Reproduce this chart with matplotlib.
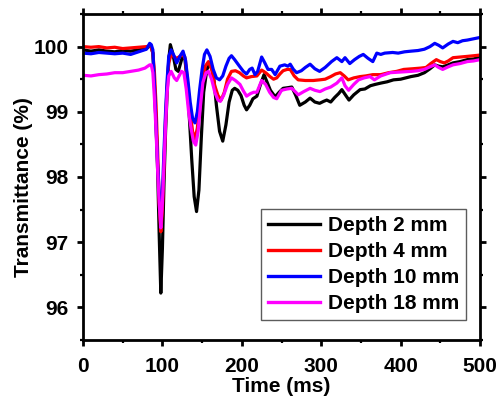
import matplotlib
matplotlib.use("Agg")
import matplotlib.pyplot as plt
from matplotlib.ticker import MultipleLocator

plt.rcParams['font.family'] = ['Liberation Sans', 'DejaVu Sans']
plt.rcParams['font.weight'] = 'bold'

# ---- data ----
t_d2 = [0, 10, 20, 30, 40, 50, 60, 70, 80, 85, 88, 90, 92, 94, 96, 98, 100, 102, 104, 106, 108, 110,
        113, 117, 120, 123, 126, 128, 131, 134, 137, 140, 143, 146, 149, 152, 156, 160, 164, 168, 172,
        176, 180, 184, 188, 191, 195, 199, 203, 206, 210, 214, 219, 223, 228, 232, 236, 242, 247, 252,
        258, 263, 268, 273, 280, 286, 292, 298, 303, 307, 312, 317, 322, 326, 331, 335, 341, 349, 355,
        362, 368, 375, 383, 391, 400, 413, 422, 430, 437, 443, 448, 453, 460, 466, 475, 484, 492, 500]
T_d2 = [99.95, 99.93, 99.95, 99.93, 99.92, 99.94, 99.93, 99.95, 99.97, 100.03, 99.9, 99.4, 98.8, 98.1,
        97.1, 96.22, 96.9, 97.9, 98.7, 99.3, 99.8, 100.03,
        99.9, 99.65, 99.62, 99.75, 99.88, 99.85, 99.5, 98.9, 98.26, 97.7, 97.47, 97.8, 98.6, 99.3, 99.65,
        99.75, 99.6, 99.1, 98.7,
        98.55, 98.8, 99.15, 99.33, 99.36, 99.33, 99.25, 99.1, 99.03, 99.1, 99.2, 99.24, 99.4, 99.57, 99.45,
        99.33, 99.23, 99.3, 99.36,
        99.37, 99.38, 99.25, 99.1, 99.15, 99.21, 99.15, 99.13, 99.16, 99.18, 99.15, 99.22, 99.28, 99.34,
        99.25, 99.18, 99.26, 99.34, 99.35,
        99.4, 99.42, 99.44, 99.46, 99.49, 99.5, 99.54, 99.56, 99.6, 99.66, 99.72, 99.7, 99.69, 99.72,
        99.75, 99.77, 99.8, 99.81, 99.84]

t_d4 = [0, 10, 20, 30, 40, 50, 60, 70, 80, 85, 88, 90, 92, 94, 96, 98, 100, 102, 104, 106, 108, 111,
        114, 118, 122, 126, 129, 132, 135, 138, 141, 144, 147, 150, 154, 158, 162, 166, 170, 174, 178,
        182, 187, 192, 197, 202, 206, 212, 219, 225, 230, 235.5, 240, 244, 248, 252, 257, 261, 266, 271,
        280, 290, 298, 305, 312, 318, 324, 329, 334, 341, 349, 356, 365, 375, 385, 395, 404, 415, 425,
        432, 438, 445, 450, 455, 460, 466, 475, 484, 492, 500]
T_d4 = [100.0, 99.99, 100.0, 99.98, 99.99, 99.97, 99.98, 99.99, 100.0, 100.02, 99.9, 99.6, 99.1, 98.4,
        97.6, 97.16, 97.5, 98.2, 98.9, 99.4, 99.75, 99.88,
        99.85, 99.82, 99.85, 99.88, 99.8, 99.4, 99.0, 98.7, 98.58, 98.75, 99.1, 99.4, 99.7, 99.77, 99.65,
        99.4, 99.25, 99.18, 99.3,
        99.5, 99.62, 99.63, 99.6, 99.55, 99.52, 99.54, 99.55, 99.64, 99.6, 99.54, 99.5, 99.52, 99.58,
        99.63, 99.65, 99.65, 99.55, 99.49,
        99.48, 99.48, 99.49, 99.5, 99.54, 99.58, 99.6, 99.55, 99.49, 99.52, 99.54, 99.55, 99.57, 99.57,
        99.6, 99.62, 99.65, 99.66, 99.67,
        99.68, 99.74, 99.8, 99.77, 99.75, 99.78, 99.83, 99.84, 99.85, 99.86, 99.87]

t_d10 = [0, 10, 20, 30, 40, 50, 60, 70, 75, 80, 84, 86, 88, 90, 92, 94, 96, 98, 100, 102, 104, 106,
         108, 111, 115, 118, 122, 126, 129, 132, 135, 138, 141, 144, 147, 150, 153, 156, 160, 164, 168,
         172, 176, 180, 184, 187, 191, 197, 202, 206, 210, 213, 216.6, 220, 225, 229, 233, 237.6, 242,
         248, 254, 258, 261, 265, 269, 275, 280, 286, 292, 298, 305, 313, 319.7, 326, 330, 336, 342,
         348, 353, 359, 365, 370, 375, 380, 390, 397, 405, 413, 422, 430, 437, 443, 448, 453, 460, 466,
         472, 478, 484, 492, 500]
T_d10 = [99.9, 99.89, 99.91, 99.9, 99.89, 99.9, 99.88, 99.92, 99.94, 99.96, 100.05, 100.03, 99.95, 99.4,
         98.8, 98.2, 97.75, 97.5, 97.75, 98.4, 99.0, 99.5,
         99.85, 99.95, 99.85, 99.75, 99.85, 99.93, 99.8, 99.5, 99.15, 98.9, 98.83, 99.0, 99.35, 99.65,
         99.88, 99.95, 99.85, 99.65, 99.52,
         99.49, 99.55, 99.7, 99.82, 99.86, 99.8, 99.7, 99.62, 99.58, 99.65, 99.67, 99.57, 99.62, 99.84,
         99.75, 99.65, 99.65, 99.57,
         99.7, 99.72, 99.7, 99.73, 99.65, 99.6, 99.63, 99.68, 99.73, 99.66, 99.62, 99.68, 99.77, 99.83,
         99.77, 99.83, 99.74, 99.8,
         99.85, 99.88, 99.82, 99.77, 99.9, 99.88, 99.9, 99.91, 99.9, 99.92, 99.93, 99.94, 99.96, 100.0,
         100.05, 100.02, 99.98, 100.04, 100.08,
         100.06, 100.09, 100.1, 100.12, 100.14]

t_d18 = [0, 10, 20, 30, 40, 50, 60, 70, 78, 84, 86, 88, 90, 92, 94, 96, 98, 100, 102, 104, 106, 108,
         111, 115, 118, 121, 124, 127, 130, 133, 136, 139, 142, 145, 148, 151, 155, 158, 162, 166, 170,
         173, 177, 182, 187, 192, 197.7, 202, 206, 211, 215, 219, 225, 230, 235, 240, 244, 250, 257,
         263, 268, 271, 278, 286, 292, 298.5, 305, 312, 319.7, 326, 330, 334.5, 341, 347, 354, 361.5,
         367, 375, 387, 400, 413.5, 422, 430, 437, 443, 448, 453, 460, 466, 475, 484, 492, 500]
T_d18 = [99.56, 99.55, 99.57, 99.58, 99.6, 99.6, 99.62, 99.64, 99.67, 99.72, 99.72, 99.6, 99.2, 98.7,
         98.1, 97.6, 97.22, 97.6, 98.2, 98.8, 99.3, 99.55,
         99.62, 99.52, 99.48, 99.55, 99.62, 99.6, 99.35, 99.0, 98.75, 98.55, 98.49, 98.7, 99.1, 99.45,
         99.6, 99.62, 99.5, 99.3, 99.18,
         99.16, 99.25, 99.42, 99.52, 99.48, 99.42, 99.32, 99.24, 99.28, 99.3, 99.3, 99.48, 99.42, 99.3,
         99.22, 99.2, 99.33, 99.35,
         99.36, 99.3, 99.26, 99.31, 99.36, 99.33, 99.31, 99.35, 99.38, 99.44, 99.52, 99.4, 99.33, 99.42,
         99.49, 99.52, 99.54,
         99.49, 99.55, 99.6, 99.61, 99.62, 99.63, 99.65, 99.69, 99.72, 99.68, 99.65, 99.69, 99.72, 99.74,
         99.77, 99.78, 99.8]

labels = ['Depth 2 mm', 'Depth 4 mm', 'Depth 10 mm', 'Depth 18 mm']
colors = ['#000000', '#FF0000', '#0000FF', '#FF00FF']
x_ticks = [0, 100, 200, 300, 400, 500]
y_ticks = [96, 97, 98, 99, 100]

# ---- figure ----
fig = plt.figure(figsize=(5.04, 4.03), dpi=100)
ax = fig.add_axes([83 / 504, 1 - 340 / 403, (480 - 83) / 504, (340 - 14) / 403])

series = [(t_d2, T_d2), (t_d4, T_d4), (t_d10, T_d10), (t_d18, T_d18)]
for (tt, vv), lab, c in zip(series, labels, colors):
    ax.plot(tt, vv, color=c, lw=2.3, label=lab, solid_joinstyle='round')

ax.set_xlim(0, 500)
ax.set_ylim(95.5, 100.5)
ax.set_xticks(x_ticks)
ax.set_yticks(y_ticks)
ax.xaxis.set_minor_locator(MultipleLocator(50))
ax.yaxis.set_minor_locator(MultipleLocator(0.5))

for s in ax.spines.values():
    s.set_linewidth(2.0)
ax.tick_params(which='major', direction='out', length=4.5, width=2.0, labelsize=15,
               top=True, right=True)
ax.tick_params(axis='x', which='major', pad=7.5)
ax.tick_params(axis='y', which='major', pad=6)
ax.tick_params(which='minor', direction='out', length=2.5, width=1.6, top=True, right=True)
for lbl in ax.get_xticklabels() + ax.get_yticklabels():
    lbl.set_fontweight('bold')

ax.set_xlabel('Time (ms)', fontsize=15, fontweight='bold', labelpad=1)
ax.set_ylabel('Transmittance (%)', fontsize=15, fontweight='bold')
ax.yaxis.set_label_coords(-0.125, 0.47)

leg = ax.legend(loc='lower right', bbox_to_anchor=(0.965, 0.061), borderaxespad=0,
                prop={'weight': 'bold', 'size': 15}, frameon=True, fancybox=False,
                handlelength=2.5, handletextpad=0.4, labelspacing=0.34, borderpad=0.33)
leg.get_frame().set_edgecolor('#333333')
leg.get_frame().set_linewidth(1.0)
for h in leg.get_lines():
    h.set_linewidth(2.4)

fig.savefig('out.png', dpi=100)
